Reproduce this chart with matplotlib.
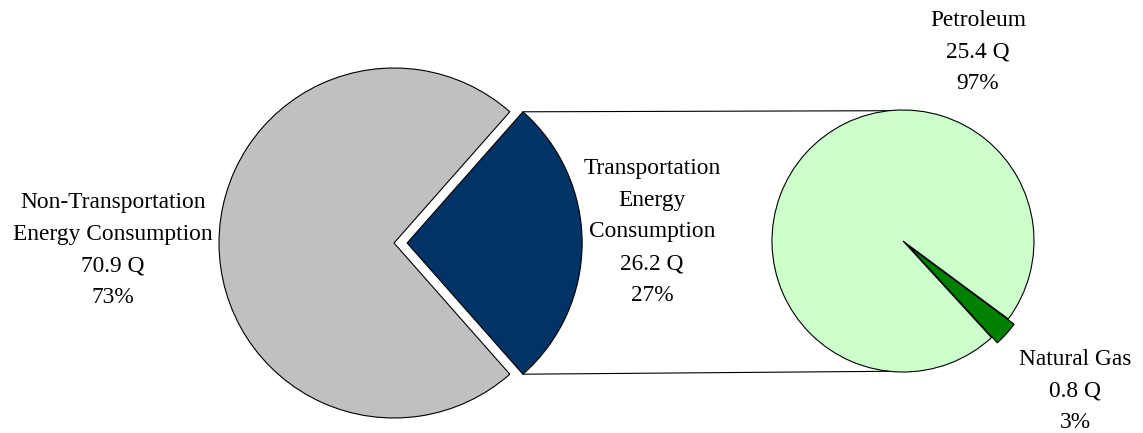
import matplotlib.pyplot as plt
import numpy as np

# energy use, quads
main_labels = ['Transportation\nEnergy\nConsumption', 'Non-Transportation\nEnergy Consumption']
main_values = [26.2, 70.9]
main_colors = ['#003366', '#C0C0C0']

sub_labels = ['Petroleum', 'Natural Gas']
sub_values = [25.4, 0.8]
sub_colors = ['#CCFFCC', '#008000']

W, H = 1143, 433
plt.rcParams['font.family'] = ['Liberation Serif', 'DejaVu Serif']


def label_text(name, value, total):
    return '{}\n{} Q\n{:.0f}%'.format(name, value, 100 * value / total)


def main():
    fig = plt.figure(figsize=(W / 100, H / 100), dpi=100)
    ax = fig.add_axes([0, 0, 1, 1])

    edge = dict(edgecolor='black', linewidth=0.8)

    # main pie, transportation slice pulled out to the right
    # (pie's explode is in data units here, not a fraction of radius)
    total = sum(main_values)
    start = -180 * main_values[0] / total
    main_r = 175
    main_wedges, _ = ax.pie(main_values, colors=main_colors, explode=[0.075 * main_r, 0],
                            startangle=start, center=(394, 190), radius=main_r,
                            wedgeprops=edge, frame=True)

    # breakdown of transportation energy
    sub_total = sum(sub_values)
    sub_start = -42 - 360 * (1 - 0.5 * sub_values[1] / sub_total)
    sub_center = np.array([903, 192])
    sub_r = 131
    ax.pie(sub_values, colors=sub_colors, explode=[0, 0.06 * sub_r],
           startangle=sub_start, center=tuple(sub_center), radius=sub_r,
           wedgeprops=edge, frame=True)
    ax.set_xlim(0, W)
    ax.set_ylim(0, H)
    ax.set_aspect('equal')
    ax.axis('off')

    # connector lines from the pulled slice to the second pie
    w = main_wedges[0]
    cx, cy = w.center
    for ang, sub_ang in [(w.theta2, 96), (w.theta1, 264)]:
        p0 = (cx + w.r * np.cos(np.radians(ang)), cy + w.r * np.sin(np.radians(ang)))
        p1 = sub_center + sub_r * np.array([np.cos(np.radians(sub_ang)), np.sin(np.radians(sub_ang))])
        ax.plot([p0[0], p1[0]], [p0[1], p1[1]], color='black', lw=0.8, zorder=0)

    txt = dict(fontsize=16.8, ha='center', va='center', multialignment='center', linespacing=1.68)
    ax.text(113, H - 250, label_text(main_labels[1], main_values[1], total), **txt)
    ax.text(652, H - 232, label_text(main_labels[0], main_values[0], total), **txt)
    ax.text(978, H - 52, label_text(sub_labels[0], sub_values[0], sub_total), **txt)
    ax.text(1075, H - 391, label_text(sub_labels[1], sub_values[1], sub_total), **txt)

    fig.savefig('out.png', dpi=100)


if __name__ == '__main__':
    main()
